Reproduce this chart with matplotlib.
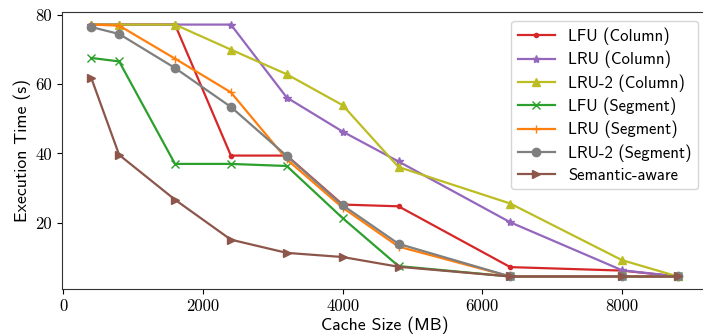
import numpy as np
import matplotlib.pyplot as plt

plt.rcParams['font.family'] = ['cmss10', 'DejaVu Sans']
plt.rcParams['axes.formatter.use_mathtext'] = True

# cache sizes (MB)
cache_mb = [400, 800, 1600, 2400, 3200, 4000, 4800, 6400, 8000, 8800]

# execution time (s) for each policy
lfu_col = [77.1, 77.1, 77.1, 39.4, 39.4, 25.3, 24.8, 7.3, 6.3, 4.6]
lru_col = [77.1, 77.1, 77.1, 77.1, 56.1, 46.3, 37.7, 20.2, 6.4, 4.6]
lru2_col = [77.1, 77.1, 77.1, 69.9, 62.8, 53.9, 36.1, 25.6, 9.3, 4.6]
lfu_seg = [67.5, 66.5, 37.0, 37.0, 36.4, 21.4, 7.6, 4.6, 4.6, 4.6]
lru_seg = [77.1, 76.8, 67.3, 57.6, 38.3, 24.4, 13.2, 4.6, 4.6, 4.6]
lru2_seg = [76.4, 74.4, 64.6, 53.4, 39.3, 25.1, 14.0, 4.6, 4.6, 4.6]
semantic = [61.8, 39.6, 26.7, 15.2, 11.4, 10.2, 7.4, 4.6, 4.6, 4.6]

labels = ['LFU (Column)', 'LRU (Column)', 'LRU-2 (Column)', 'LFU (Segment)',
          'LRU (Segment)', 'LRU-2 (Segment)', 'Semantic-aware']
series = [lfu_col, lru_col, lru2_col, lfu_seg, lru_seg, lru2_seg, semantic]
markers = ['.', '*', '^', 'x', '+', 'o', '>']
colors = ['#d62728', '#9467bd', '#bcbd22', '#2ca02c', '#ff7f0e', '#7f7f7f', '#8c564b']

xticks = [0, 2000, 4000, 6000, 8000]
yticks = [20, 40, 60, 80]

fig = plt.figure(figsize=(7.03, 3.35), dpi=100)
# the original figure is cut off on the right, so the axes run past the edge
ax = fig.add_axes([0.088, 0.137, 0.918, 0.828])

for vals, lab, mk, col in zip(series, labels, markers, colors):
    ax.plot(cache_mb, vals, marker=mk, color=col, label=lab, lw=1.6, ms=6)

ax.set_xticks(xticks, [str(t) for t in xticks], fontfamily='cmr10', fontsize=12)
ax.set_yticks(yticks, [str(t) for t in yticks], fontfamily='cmr10', fontsize=12)
ax.set_xlim(-20, 9220)
ax.set_ylim(0.97, 80.8)
ax.set_xlabel('Cache Size (MB)', fontsize=12.8, labelpad=2)
ax.set_ylabel('Execution Time (s)', fontsize=12.8, labelpad=3)
for s in ax.spines.values():
    s.set_color('#333333')
ax.spines['right'].set_visible(False)
ax.legend(loc='upper right', fontsize=12, handlelength=2.2, labelspacing=0.35,
          borderaxespad=0.55)

fig.savefig('out.png', dpi=100)
